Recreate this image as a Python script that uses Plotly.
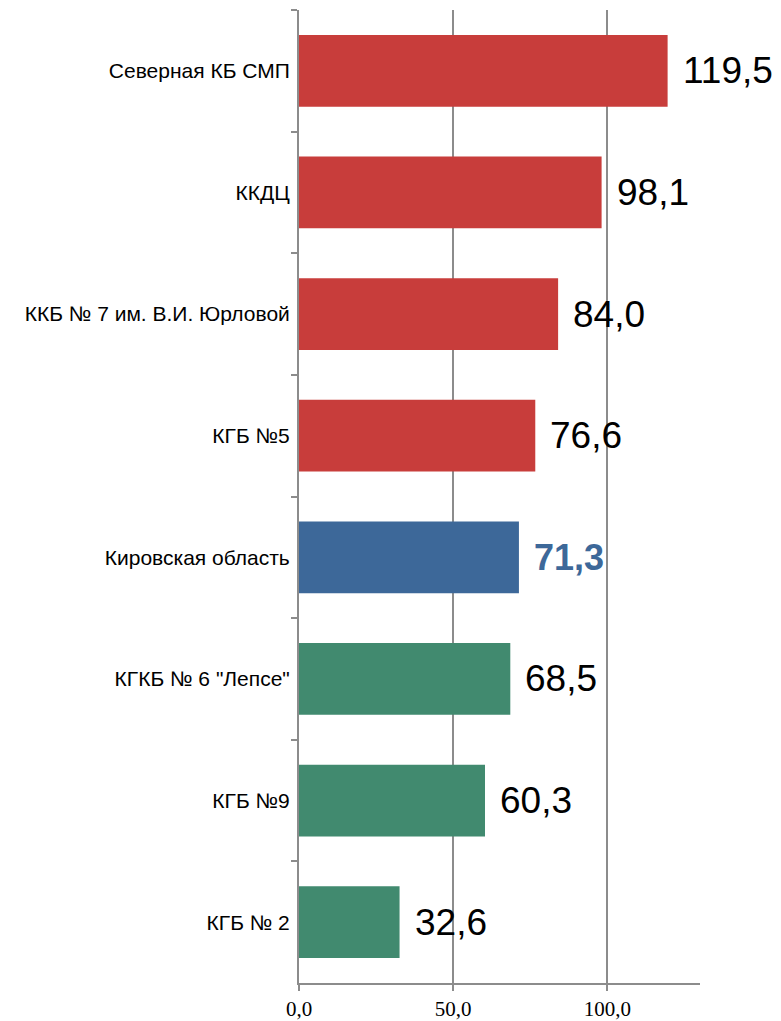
import plotly.graph_objects as go

categories = [
    "Северная КБ СМП",
    "ККДЦ",
    "ККБ № 7 им. В.И. Юрловой",
    "КГБ №5",
    "Кировская область",
    "КГКБ № 6 \"Лепсе\"",
    "КГБ №9",
    "КГБ № 2",
]
values = [119.5, 98.1, 84.0, 76.6, 71.3, 68.5, 60.3, 32.6]
groups = ["high", "high", "high", "high", "region", "low", "low", "low"]

group_colors = {"high": "#C83D3B", "region": "#3D6899", "low": "#418A6F"}
colors = [group_colors[g] for g in groups]

fig = go.Figure()
fig.add_trace(go.Bar(
    y=categories,
    x=values,
    orientation="h",
    marker=dict(color=colors, line=dict(width=0)),
    hoverinfo="skip",
))

for cat, v, g in zip(categories, values, groups):
    is_region = g == "region"
    fig.add_annotation(
        x=v, y=cat, xref="x", yref="y",
        text=(f"<b>{v:.1f}</b>" if is_region else f"{v:.1f}").replace(".", ","),
        showarrow=False, xanchor="left", yanchor="middle", xshift=13,
        font=dict(family="Liberation Sans, Arial, sans-serif", size=37 if not is_region else 36,
                  color="#3D6899" if is_region else "#000000"),
    )

fig.update_layout(
    width=781, height=1021,
    margin=dict(l=291, r=89, t=2, b=46),
    paper_bgcolor="white", plot_bgcolor="white",
    bargap=0.41,
    showlegend=False,
    separators=", ",
    xaxis=dict(
        range=[0, 130],
        tickvals=[0, 50, 100],
        tickformat=".1f",
        showgrid=True, gridcolor="#8C8C8C", gridwidth=1.5,
        zeroline=False,
        showline=True, linecolor="#8C8C8C", linewidth=2,
        ticks="outside", ticklen=6, tickcolor="#8C8C8C", tickwidth=2,
        tickfont=dict(family="Liberation Serif, serif", size=21, color="#000000"),
    ),
    yaxis=dict(
        categoryorder="array", categoryarray=categories,
        autorange="reversed",
        showline=True, linecolor="#8C8C8C", linewidth=2,
        ticks="outside", ticklen=6, tickcolor="#8C8C8C", tickwidth=2,
        tickson="boundaries",
        ticklabelstandoff=3,
        showgrid=False, zeroline=False,
        tickfont=dict(family="Liberation Sans, Arial, sans-serif", size=21, color="#000000"),
    ),
)

fig.write_html("out.html")
